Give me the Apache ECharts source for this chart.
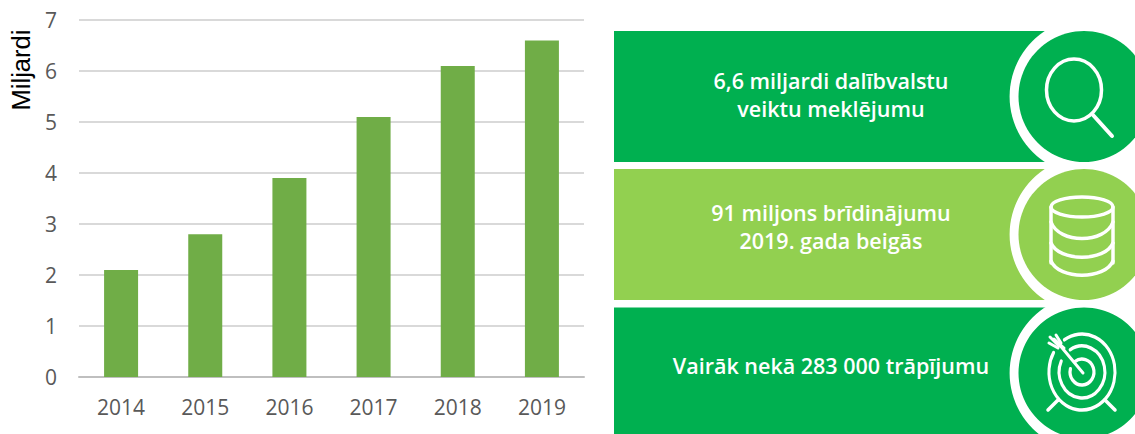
<!DOCTYPE html>
<html>
<head>
<meta charset="utf-8">
<style>
html,body{margin:0;padding:0;background:#fff}
#c{width:1135px;height:434px}
</style>
<script src="https://cdn.jsdelivr.net/npm/echarts@6/dist/echarts.min.js"></script>
</head>
<body>
<div id="c"></div>
<script>
const years = ['2014','2015','2016','2017','2018','2019'];
const searches = [2.1,2.8,3.9,5.1,6.1,6.6];
const yTickMax = 7;
const yTitle = 'Miljardi';
const panelLines = [
  ['6,6 miljardi dalībvalstu','veiktu meklējumu'],
  ['91 miljons brīdinājumu','2019. gada beigās'],
  ['Vairāk nekā 283 000 trāpījumu']
];
const GREEN='#00B050', LIME='#92D050', W='#fff';
const bands=[
  {top:31,h:131,cy:96.5,fill:GREEN,ty:[80,108]},
  {top:169,h:131,cy:234.5,fill:LIME,ty:[212,240]},
  {top:307.5,h:127,cy:373,fill:GREEN,ty:[365]}
];
const g=[];
const sw={stroke:W,fill:'none',lineWidth:3.5,lineCap:'round'};
bands.forEach(b=>{g.push({type:'rect',shape:{x:614,y:b.top,width:432,height:b.h},style:{fill:b.fill},z:1});});
bands.forEach(b=>{g.push({type:'circle',shape:{cx:1088,cy:b.cy,r:78.4},style:{fill:W},z:2});});
bands.forEach((b,i)=>{
  g.push({type:'circle',shape:{cx:1084,cy:b.cy,r:65.5},style:{fill:b.fill},z:3});
  panelLines[i].forEach((t,j)=>g.push({type:'text',x:831,y:b.ty[j],z:5,style:{text:t,fill:W,align:'center',verticalAlign:'middle',font:'600 21.5px "Open Sans"'}}));
});
function line(x1,y1,x2,y2,w){g.push({type:'line',shape:{x1,y1,x2,y2},style:Object.assign({},sw,w?{lineWidth:w}:{}),z:4});}
function ell(cx,cy,rx,ry){g.push({type:'ellipse',shape:{cx,cy,rx,ry},style:sw,z:4});}
function curve(x1,x2,y,d){g.push({type:'bezierCurve',shape:{x1,y1:y,x2,y2:y,cpx1:x1+8,cpy1:y+d,cpx2:x2-8,cpy2:y+d},style:sw,z:4});}
function earc(cx,cy,r,sx,a0,a1){g.push({type:'arc',x:cx,y:cy,scaleX:sx,shape:{cx:0,cy:0,r,startAngle:a0,endAngle:a1,clockwise:true},style:Object.assign({},sw,{strokeNoScale:true}),z:4});}
// magnifier
ell(1074,90,27.5,31);
line(1093,115,1112,136,4);
// database
ell(1082,207,31,10);
line(1051,207,1051,263);line(1113,207,1113,263);
curve(1051,1113,222,22);
curve(1051,1113,243,19);
curve(1051,1113,261,19);
// target
earc(1082,372,38,0.87,4.15,3.68+Math.PI*2);
earc(1082,372,26,0.88,4.17,3.58+Math.PI*2);
earc(1082,372,13,0.92,4.07,3.4+Math.PI*2);
line(1083,373,1058,343,3);
line(1058,400,1048,410);line(1105,400,1115,410);
[[1050,337,1059,346],[1056,335,1061,343],[1049,343,1058,348],[1054,339,1064,348]].forEach(a=>line(a[0],a[1],a[2],a[3],3));
// axis title
g.push({type:'text',x:21,y:70,rotation:Math.PI/2,z:5,style:{text:yTitle,fill:'#000',align:'center',verticalAlign:'middle',font:'25.5px "Liberation Sans"'}});

const chart=echarts.init(document.getElementById('c'),null,{renderer:'svg'});
chart.setOption({
  animation:false,
  backgroundColor:'#fff',
  grid:{left:79,right:551,top:20,bottom:57},
  xAxis:{type:'category',data:years,axisTick:{show:false},
    axisLine:{lineStyle:{color:'#BFBFBF',width:2}},
    axisLabel:{color:'#595959',fontFamily:'Open Sans',fontSize:21,margin:19}},
  yAxis:{type:'value',min:0,max:yTickMax,interval:1,
    axisLine:{show:false},axisTick:{show:false},
    splitLine:{lineStyle:{color:'#D9D9D9',width:2}},
    axisLabel:{color:'#595959',fontFamily:'Open Sans',fontSize:21,margin:22}},
  series:[{type:'bar',data:searches,barWidth:34,itemStyle:{color:'#70AD47'}}],
  graphic:{elements:g}
});
</script>
</body>
</html>
